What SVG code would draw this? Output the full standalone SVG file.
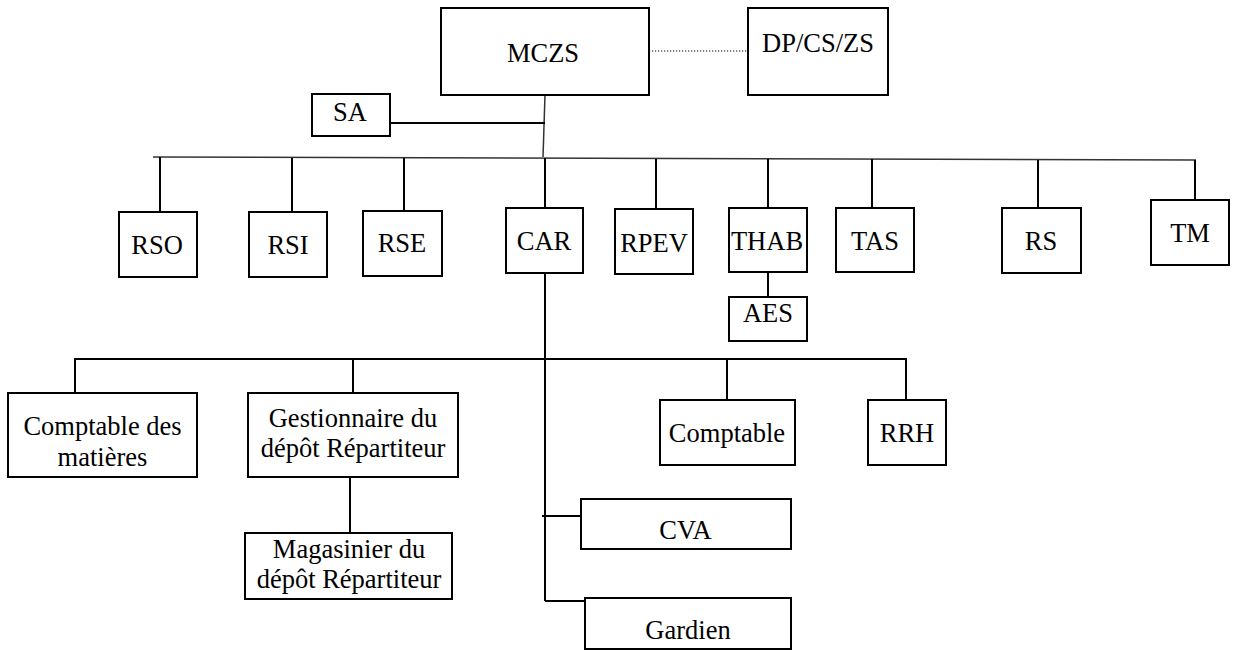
<svg xmlns="http://www.w3.org/2000/svg" width="1234" height="650" viewBox="0 0 1234 650">
<style>
.box{fill:#fff;stroke:#000;stroke-width:2}
.ln{fill:none;stroke:#000;stroke-width:2}
.thin{fill:none;stroke:#333;stroke-width:1.5}
.dot{fill:none;stroke:#000;stroke-width:1.2;stroke-dasharray:1.2 1.8}
.t{font-family:'Liberation Serif',serif;font-size:26.5px;fill:#000;text-anchor:middle}
</style>
<rect width="1234" height="650" fill="#fff"/>
<g id="connectors">
<line class="dot" x1="649" y1="51" x2="748" y2="51"/>
<line class="thin" x1="545" y1="95" x2="543" y2="157"/>
<line class="ln" x1="390" y1="123" x2="545" y2="123"/>
<line class="thin" x1="153" y1="157" x2="1196" y2="160"/>
<line class="ln" x1="160" y1="157" x2="160" y2="212"/>
<line class="ln" x1="292" y1="158" x2="292" y2="212"/>
<line class="ln" x1="404" y1="158" x2="404" y2="211"/>
<line class="ln" x1="545" y1="158" x2="545" y2="208"/>
<line class="ln" x1="656" y1="159" x2="656" y2="209"/>
<line class="ln" x1="768" y1="159" x2="768" y2="208"/>
<line class="ln" x1="872" y1="159" x2="872" y2="208"/>
<line class="ln" x1="1038" y1="160" x2="1038" y2="208"/>
<line class="ln" x1="1195" y1="160" x2="1195" y2="200"/>
<line class="ln" x1="768" y1="272" x2="768" y2="297"/>
<line class="ln" x1="545" y1="273" x2="545" y2="601"/>
<polyline class="ln" points="75,393 75,359 906,359 906,400"/>
<line class="ln" x1="353" y1="359" x2="353" y2="393"/>
<line class="ln" x1="727" y1="359" x2="727" y2="400"/>
<line class="ln" x1="350" y1="477" x2="350" y2="533"/>
<line class="ln" x1="542" y1="516" x2="581" y2="516"/>
<line class="ln" x1="545" y1="601" x2="585" y2="601"/>
</g>
<g font-family="Liberation Serif, serif">
<g id="mczs"><rect class="box" x="441" y="8" width="208" height="87"/><text class="t" x="543" y="62">MCZS</text></g>
<g id="dpcszs"><rect class="box" x="748" y="8" width="140" height="87"/><text class="t" x="818" y="52">DP/CS/ZS</text></g>
<g id="sa"><rect class="box" x="312" y="94" width="78" height="42"/><text class="t" x="350" y="121">SA</text></g>
<g id="rso"><rect class="box" x="119" y="212" width="78" height="65"/><text class="t" x="157" y="254">RSO</text></g>
<g id="rsi"><rect class="box" x="249" y="212" width="78" height="65"/><text class="t" x="288" y="254">RSI</text></g>
<g id="rse"><rect class="box" x="363" y="211" width="79" height="65"/><text class="t" x="402" y="252">RSE</text></g>
<g id="car"><rect class="box" x="506" y="208" width="77" height="65"/><text class="t" x="544" y="250">CAR</text></g>
<g id="rpev"><rect class="box" x="615" y="209" width="78" height="65"/><text class="t" x="654" y="252">RPEV</text></g>
<g id="thab"><rect class="box" x="729" y="208" width="78" height="64"/><text class="t" x="767" y="250">THAB</text></g>
<g id="aes"><rect class="box" x="729" y="297" width="78" height="44"/><text class="t" x="768" y="322">AES</text></g>
<g id="tas"><rect class="box" x="836" y="208" width="78" height="64"/><text class="t" x="875" y="250">TAS</text></g>
<g id="rs"><rect class="box" x="1002" y="208" width="79" height="65"/><text class="t" x="1041" y="250">RS</text></g>
<g id="tm"><rect class="box" x="1151" y="200" width="78" height="65"/><text class="t" x="1190" y="242">TM</text></g>
<g id="comptable-matieres"><rect class="box" x="8" y="393" width="189" height="84"/><text class="t" x="102.5" y="435">Comptable des</text><text class="t" x="102.5" y="466">matières</text></g>
<g id="gestionnaire"><rect class="box" x="248" y="393" width="210" height="84"/><text class="t" x="353" y="427">Gestionnaire du</text><text class="t" x="353" y="457">dépôt Répartiteur</text></g>
<g id="magasinier"><rect class="box" x="245" y="533" width="207" height="66"/><text class="t" x="349" y="558">Magasinier du</text><text class="t" x="349" y="588">dépôt Répartiteur</text></g>
<g id="comptable"><rect class="box" x="660" y="400" width="135" height="65"/><text class="t" x="727" y="442">Comptable</text></g>
<g id="rrh"><rect class="box" x="868" y="400" width="78" height="65"/><text class="t" x="907" y="442">RRH</text></g>
<g id="cva"><rect class="box" x="581" y="499" width="210" height="50"/><text class="t" x="685.5" y="539">CVA</text></g>
<g id="gardien"><rect class="box" x="585" y="598" width="206" height="51"/><text class="t" x="688" y="639">Gardien</text></g>
</g>
</svg>
